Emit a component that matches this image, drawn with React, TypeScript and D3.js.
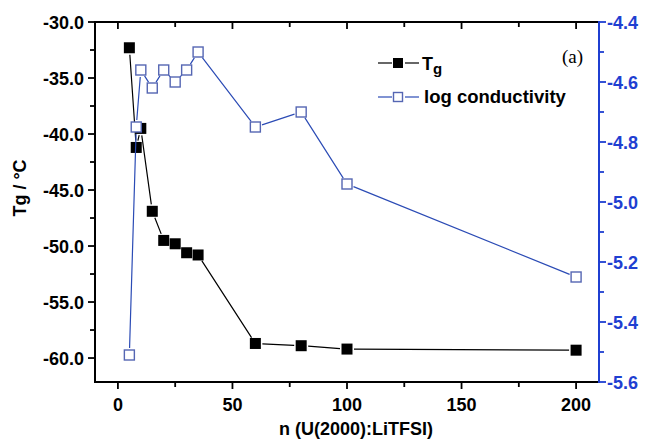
import React from "react";
import * as d3 from "d3";

const nValues = [5, 8, 10, 15, 20, 25, 30, 35, 60, 80, 100, 200];
const tgValues = [-32.3, -41.2, -39.5, -46.9, -49.5, -49.8, -50.6, -50.8, -58.7, -58.9, -59.2, -59.3];
const logCondValues = [-5.51, -4.75, -4.56, -4.62, -4.56, -4.6, -4.56, -4.5, -4.75, -4.7, -4.94, -5.25];
const xTicks = [0, 50, 100, 150, 200];
const xMinorTicks = [0, 25, 50, 75, 100, 125, 150, 175, 200];
const yLeftTicks = [-30, -35, -40, -45, -50, -55, -60];
const yLeftMinor = [-32.5, -37.5, -42.5, -47.5, -52.5, -57.5, -62.5];
const yRightTicks = [-4.4, -4.6, -4.8, -5.0, -5.2, -5.4, -5.6];
const yRightMinor = [-4.5, -4.7, -4.9, -5.1, -5.3, -5.5];

const W = 648, H = 441;
const L = 95, R = 599, T = 22, B = 382;
const BLUE = "#1f3fd1";
const LINE_BLUE = "#2b4bb5";
const SQ_BLUE = "#5566b3";
const FONT = "'Liberation Sans', Arial, Helvetica, sans-serif";

function gappedSegments(pts: [number, number][], gap: number) {
  const segs: string[] = [];
  for (let i = 0; i < pts.length - 1; i++) {
    const [x1, y1] = pts[i];
    const [x2, y2] = pts[i + 1];
    const dx = x2 - x1, dy = y2 - y1;
    const len = Math.hypot(dx, dy);
    if (len <= 2 * gap + 1) continue;
    const ux = dx / len, uy = dy / len;
    segs.push(`M${x1 + ux * gap},${y1 + uy * gap}L${x2 - ux * gap},${y2 - uy * gap}`);
  }
  return segs.join("");
}

export default function App() {
  const x = d3.scaleLinear().domain([-10, 210]).range([L, R]);
  const yL = d3.scaleLinear().domain([-62.14, -30]).range([B, T]);
  const yR = d3.scaleLinear().domain([-5.6, -4.4]).range([B, T]);

  const tgPts: [number, number][] = nValues.map((n, i) => [x(n), yL(tgValues[i])]);
  const condPts: [number, number][] = nValues.map((n, i) => [x(n), yR(logCondValues[i])]);

  const fs = 18;
  const ms = 11;
  return (
    <svg width={W} height={H} style={{ position: "absolute", left: 0, top: 0, background: "#fff" }}>
      <rect x={0} y={0} width={W} height={H} fill="#fff" />
      {/* frame */}
      <line x1={L} y1={T} x2={R} y2={T} stroke="#000" strokeWidth={2} />
      <line x1={L} y1={B} x2={R} y2={B} stroke="#000" strokeWidth={2} />
      <line x1={L} y1={T - 1} x2={L} y2={B + 1} stroke="#000" strokeWidth={2} />
      <line x1={R} y1={T - 1} x2={R} y2={B + 1} stroke={BLUE} strokeWidth={2} />

      {/* x ticks bottom (outward) and top (inward) */}
      {xMinorTicks.map((t) => {
        const major = t % 50 === 0;
        return (
          <g key={"xt" + t}>
            <line x1={x(t)} x2={x(t)} y1={B} y2={B + (major ? 7 : 5)} stroke="#000" strokeWidth={1.8} />
            <line x1={x(t)} x2={x(t)} y1={T} y2={T + (major ? 7 : 5)} stroke="#000" strokeWidth={1.8} />
          </g>
        );
      })}
      {xTicks.map((t) => (
        <text key={"xl" + t} x={x(t)} y={411} textAnchor="middle" fontFamily={FONT} fontWeight="bold" fontSize={fs}>
          {t}
        </text>
      ))}

      {/* left y ticks */}
      {yLeftTicks.map((t) => (
        <g key={"yl" + t}>
          <line x1={L - 7} x2={L} y1={yL(t)} y2={yL(t)} stroke="#000" strokeWidth={1.8} />
          <text x={84} y={yL(t) + 6.5} textAnchor="end" fontFamily={FONT} fontWeight="bold" fontSize={fs}>
            {t.toFixed(1)}
          </text>
        </g>
      ))}
      {yLeftMinor.filter((t) => yL(t) <= B && yL(t) >= T).map((t) => (
        <line key={"ylm" + t} x1={L - 5} x2={L} y1={yL(t)} y2={yL(t)} stroke="#000" strokeWidth={1.8} />
      ))}

      {/* right y ticks */}
      {yRightTicks.map((t) => (
        <g key={"yr" + t}>
          <line x1={R} x2={R + 7} y1={yR(t)} y2={yR(t)} stroke={BLUE} strokeWidth={1.8} />
          <text x={607} y={yR(t) + 6.5} textAnchor="start" fontFamily={FONT} fontWeight="bold" fontSize={fs} fill={BLUE}>
            {t.toFixed(1)}
          </text>
        </g>
      ))}
      {yRightMinor.map((t) => (
        <line key={"yrm" + t} x1={R} x2={R + 5} y1={yR(t)} y2={yR(t)} stroke={BLUE} strokeWidth={1.8} />
      ))}

      {/* axis titles */}
      <text transform="translate(26,188) rotate(-90)" textAnchor="middle" fontFamily={FONT} fontWeight="bold" fontSize={fs}>
        Tg / °C
      </text>
      <text x={356} y={435} textAnchor="middle" fontFamily={FONT} fontWeight="bold" fontSize={fs}>
        n (U(2000):LiTFSI)
      </text>

      {/* Tg series */}
      <path d={gappedSegments(tgPts, 7)} stroke="#000" strokeWidth={1.2} fill="none" />
      {tgPts.map(([px, py], i) => (
        <rect key={"tg" + i} x={px - ms / 2} y={py - ms / 2} width={ms} height={ms} fill="#000" />
      ))}

      {/* log conductivity series */}
      <path d={gappedSegments(condPts, 7)} stroke={LINE_BLUE} strokeWidth={1.2} fill="none" />
      {condPts.map(([px, py], i) => (
        <rect key={"lc" + i} x={px - 5} y={py - 5} width={10} height={10} fill="#fff" stroke={SQ_BLUE} strokeWidth={1.4} />
      ))}

      {/* legend */}
      <line x1={378} x2={392} y1={63} y2={63} stroke="#000" strokeWidth={1.2} />
      <line x1={405} x2={419} y1={63} y2={63} stroke="#000" strokeWidth={1.2} />
      <rect x={393} y={58} width={10} height={10} fill="#000" />
      <text x={422} y={70} fontFamily={FONT} fontWeight="bold" fontSize={fs}>
        T<tspan fontSize={15} dy={4}>g</tspan>
      </text>
      <line x1={378} x2={392} y1={97} y2={97} stroke={LINE_BLUE} strokeWidth={1.2} />
      <line x1={405} x2={419} y1={97} y2={97} stroke={LINE_BLUE} strokeWidth={1.2} />
      <rect x={393.5} y={92.5} width={9} height={9} fill="#fff" stroke={SQ_BLUE} strokeWidth={1.4} />
      <text x={424} y={103} fontFamily={FONT} fontWeight="bold" fontSize={18.5}>
        log conductivity
      </text>
      <text x={562} y={63} fontFamily="'Liberation Serif', 'Times New Roman', serif" fontSize={19}>
        (a)
      </text>
    </svg>
  );
}
